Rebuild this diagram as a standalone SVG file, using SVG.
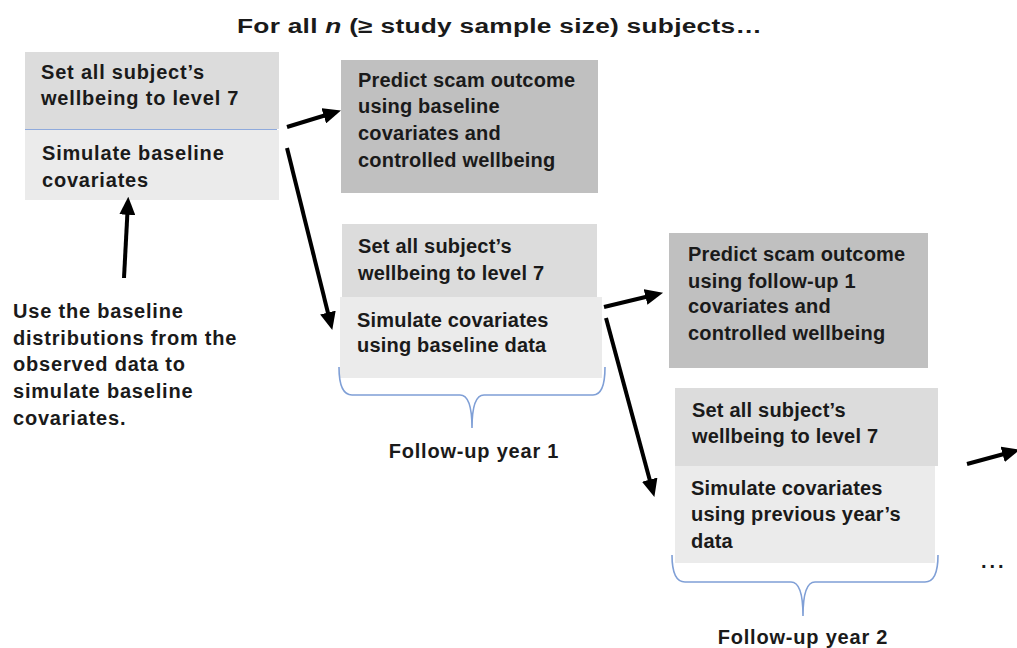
<svg xmlns="http://www.w3.org/2000/svg" width="1017" height="648" viewBox="0 0 1017 648">
<style>
text{font-family:"Liberation Sans",Arial,sans-serif;font-weight:bold;fill:#1a1a1a;font-size:20px;letter-spacing:0.2px}
.wide{letter-spacing:0.8px}
.dark{fill:#dcdcdc}
.light{fill:#ebebeb}
.pred{fill:#c0c0c0}
.arr{stroke:#000;stroke-width:4;fill:none;marker-end:url(#ah)}
.brace{stroke:#7f9fd6;stroke-width:1.6;fill:none}
</style>
<defs>
<marker id="ah" markerWidth="4.5" markerHeight="4" refX="3.2" refY="2" orient="auto" markerUnits="strokeWidth">
<path d="M0,0 L4.5,2 L0,4 Z" fill="#000"/>
</marker>
</defs>
<rect width="1017" height="648" fill="#fff"/>
<text x="237" y="33" font-size="22" textLength="525" lengthAdjust="spacingAndGlyphs">For all <tspan font-style="italic">n</tspan> (≥ study sample size) subjects…</text>

<g id="box1">
<rect class="dark" x="25" y="52" width="254" height="77"/>
<rect class="light" x="25" y="130" width="254" height="70"/>
<line x1="25" y1="129.5" x2="277" y2="129.5" stroke="#8faadc" stroke-width="1"/>
<text class="wide" x="41" y="79">Set all subject’s</text>
<text class="wide" x="41" y="105">wellbeing to level 7</text>
<text class="wide" x="42" y="160">Simulate baseline</text>
<text class="wide" x="42" y="187">covariates</text>
</g>

<g id="pred1">
<rect class="pred" x="341" y="60" width="257" height="133"/>
<text x="358" y="87">Predict scam outcome</text>
<text x="358" y="113">using baseline</text>
<text x="358" y="140">covariates and</text>
<text x="358" y="167">controlled wellbeing</text>
</g>

<g id="note">
<text class="wide" x="13" y="318">Use the baseline</text>
<text class="wide" x="13" y="345">distributions from the</text>
<text class="wide" x="13" y="371">observed data to</text>
<text class="wide" x="13" y="398">simulate baseline</text>
<text class="wide" x="13" y="425">covariates.</text>
</g>

<g id="box2">
<rect class="dark" x="342" y="224" width="255" height="74"/>
<rect class="light" x="340" y="297" width="262" height="81"/>
<text x="358" y="253">Set all subject’s</text>
<text x="358" y="280">wellbeing to level 7</text>
<text x="357" y="327">Simulate covariates</text>
<text x="357" y="352">using baseline data</text>
</g>

<g id="pred2">
<rect class="pred" x="669" y="233" width="259" height="135"/>
<text x="688" y="261">Predict scam outcome</text>
<text x="688" y="288">using follow-up 1</text>
<text x="688" y="313">covariates and</text>
<text x="688" y="340">controlled wellbeing</text>
</g>

<g id="box3">
<rect class="dark" x="675" y="388" width="263" height="78"/>
<rect class="light" x="675" y="466" width="260" height="97"/>
<text x="692" y="417">Set all subject’s</text>
<text x="692" y="443">wellbeing to level 7</text>
<text x="691" y="495">Simulate covariates</text>
<text x="691" y="521">using previous year’s</text>
<text x="691" y="548">data</text>
</g>

<g id="year1">
<path class="brace" d="M339,367 Q339,395 352,395 L460,395 Q472,395 472,428 Q472,395 484,395 L593,395 Q605,395 605,367"/>
<text x="474" y="458" text-anchor="middle" class="wide">Follow-up year 1</text>
</g>

<g id="year2">
<path class="brace" d="M672,555 Q672,582 685,582 L791,582 Q803,582 803,616 Q803,582 815,582 L925,582 Q938,582 938,555"/>
<text x="803" y="644" text-anchor="middle" class="wide">Follow-up year 2</text>
</g>

<g id="connectors">
<line class="arr" x1="287" y1="127" x2="336" y2="112"/>
<line class="arr" x1="287" y1="148" x2="331" y2="325"/>
<line class="arr" x1="124" y1="278" x2="128" y2="202"/>
<line class="arr" x1="604" y1="307" x2="658" y2="294"/>
<line class="arr" x1="606" y1="318" x2="653" y2="492"/>
<line class="arr" x1="967" y1="464" x2="1015" y2="451"/>
</g>
<text x="981" y="568" font-size="42" style="letter-spacing:3px">...</text>
</svg>
